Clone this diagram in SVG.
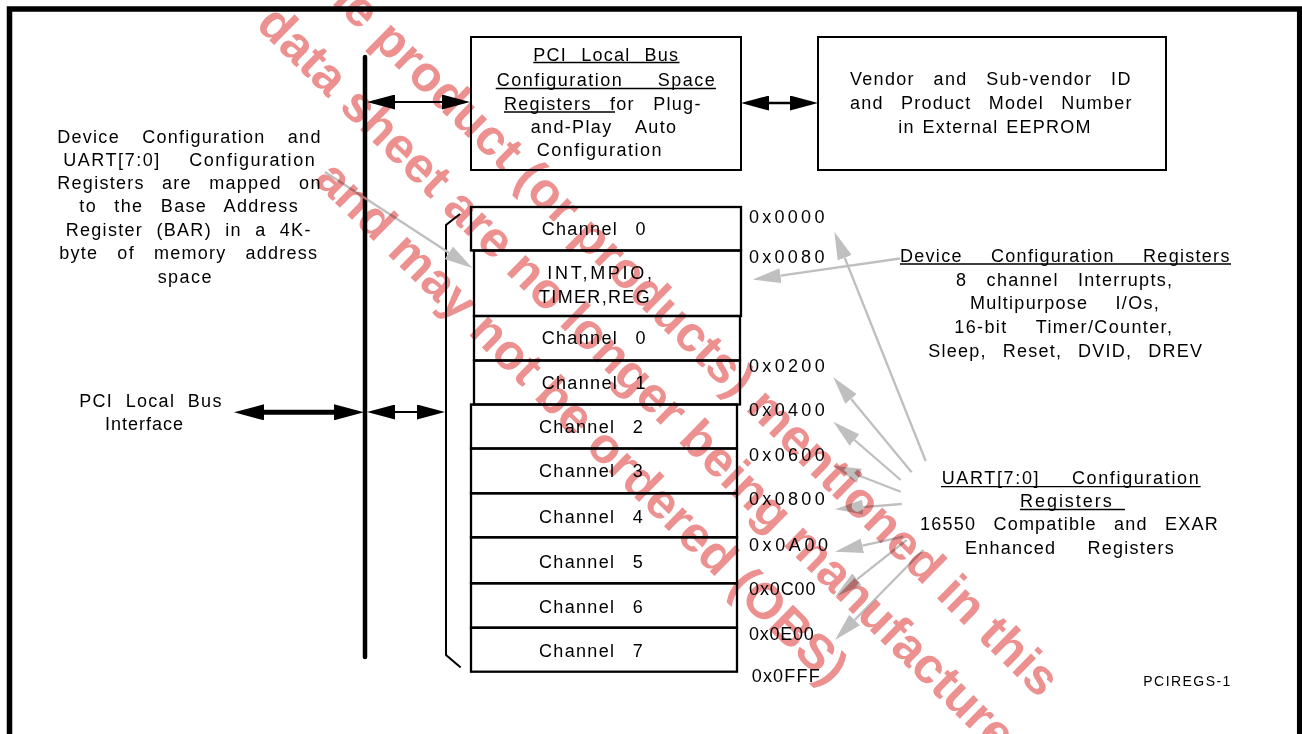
<svg xmlns="http://www.w3.org/2000/svg" width="1302" height="734" viewBox="0 0 1302 734">
<style>
.frame{fill:none;stroke:#000;stroke-width:5.5}
.box{fill:none;stroke:#000;stroke-width:2}
.reg{fill:none;stroke:#000;stroke-width:2.3}
.t{font-family:"Liberation Sans",Arial,sans-serif;font-size:18px;letter-spacing:1.3px;fill:#000}
.s{font-size:14px}
.ul{stroke:#000;stroke-width:1.3}
.bk{stroke:#000;fill:none}
.gr{stroke:#bfbfbf;stroke-width:2.3;fill:none;marker-end:url(#hg)}
.wm{font-family:"Liberation Sans",Arial,sans-serif;font-weight:bold;font-size:50px;fill:#ec9090}
</style>
<defs>
<marker id="hb" markerUnits="userSpaceOnUse" viewBox="0 -8 30 16" refX="0" refY="0" markerWidth="30" markerHeight="16" orient="auto-start-reverse"><path d="M0,-8 L30,0 L0,8z" fill="#000"/></marker>
<marker id="hm" markerUnits="userSpaceOnUse" viewBox="0 -7.5 28 15" refX="0" refY="0" markerWidth="28" markerHeight="15" orient="auto-start-reverse"><path d="M0,-7.5 L28,0 L0,7.5z" fill="#000"/></marker>
<marker id="hg" markerUnits="userSpaceOnUse" viewBox="0 -7.5 28 15" refX="0" refY="0" markerWidth="28" markerHeight="15" orient="auto"><path d="M0,-7.5 L28,0 L0,7.5z" fill="#bfbfbf"/></marker>
</defs>
<rect width="1302" height="734" fill="#fff"/>
<path class="frame" d="M9.5,740 V9 H1299.7 V740"/>

<g id="desc-left">
<text class="t" x="57.3" y="142.5" textLength="264.4" lengthAdjust="spacing" style="word-spacing:16px">Device Configuration and</text>
<text class="t" x="63.3" y="165.7" textLength="252.7" lengthAdjust="spacing" style="word-spacing:22px">UART[7:0] Configuration</text>
<text class="t" x="57.3" y="189.3" textLength="264.4" lengthAdjust="spacing" style="word-spacing:11px">Registers are mapped on</text>
<text class="t" x="79.3" y="212.3" textLength="219.7" lengthAdjust="spacing" style="word-spacing:11px">to the Base Address</text>
<text class="t" x="65.7" y="236" textLength="246" lengthAdjust="spacing" style="word-spacing:7px">Register (BAR) in a 4K-</text>
<text class="t" x="59.3" y="258.7" textLength="259" lengthAdjust="spacing" style="word-spacing:12.8px">byte of memory address</text>
<text class="t" x="157.7" y="283" textLength="55" lengthAdjust="spacing">space</text>
</g>

<g id="pci-bus-label">
<text class="t" x="79.3" y="406.7" textLength="143.4" lengthAdjust="spacing" style="word-spacing:6.4px">PCI Local Bus</text>
<text class="t" x="105" y="430" textLength="79.3" lengthAdjust="spacing">Interface</text>
</g>

<g id="bus">
<line x1="365" y1="57" x2="365" y2="657" stroke="#000" stroke-width="4.5" stroke-linecap="round"/>
</g>

<g id="pci-config-box">
<rect class="box" x="471" y="37" width="270" height="133"/>
<text class="t" x="533.3" y="60.7" textLength="146" lengthAdjust="spacing" style="word-spacing:7.8px">PCI Local Bus</text>
<text class="t" x="496.7" y="86" textLength="219.3" lengthAdjust="spacing" style="word-spacing:28px">Configuration Space</text>
<text class="t" x="504" y="110" textLength="197.7" lengthAdjust="spacing" style="word-spacing:12px">Registers for Plug-</text>
<text class="t" x="530.7" y="133.3" textLength="146.6" lengthAdjust="spacing" style="word-spacing:17px">and-Play Auto</text>
<text class="t" x="536.7" y="156" textLength="126" lengthAdjust="spacing">Configuration</text>
<line class="ul" x1="533.3" y1="62.5" x2="679.5" y2="62.5"/>
<line class="ul" x1="495.7" y1="88.5" x2="716" y2="88.5"/>
<line class="ul" x1="504" y1="112" x2="615" y2="112"/>
</g>

<g id="vendor-box">
<rect class="box" x="818" y="37" width="348" height="133"/>
<text class="t" x="850" y="85" textLength="281.7" lengthAdjust="spacing" style="word-spacing:12.5px">Vendor and Sub-vendor ID</text>
<text class="t" x="850" y="109.3" textLength="282.7" lengthAdjust="spacing" style="word-spacing:11px">and Product Model Number</text>
<text class="t" x="898.3" y="132.7" textLength="193.4" lengthAdjust="spacing" style="word-spacing:1.5px">in External EEPROM</text>
</g>

<g id="register-map">
<path class="bk" stroke-width="2" d="M460,214 L446,225 V655 L460.7,667.5"/>
<rect class="reg" x="471" y="207" width="270" height="43.5"/>
<rect class="reg" x="474" y="250.5" width="267" height="65.5"/>
<rect class="reg" x="474" y="316" width="266" height="44.5"/>
<rect class="reg" x="474" y="360.5" width="266" height="44"/>
<rect class="reg" x="471" y="404.5" width="266" height="44"/>
<rect class="reg" x="471" y="448.5" width="266" height="44.8"/>
<rect class="reg" x="471" y="493.3" width="266" height="44"/>
<rect class="reg" x="471" y="537.3" width="266" height="46"/>
<rect class="reg" x="471" y="583.3" width="266" height="44.4"/>
<rect class="reg" x="471" y="627.7" width="266" height="44"/>
<text class="t" x="541.7" y="235" textLength="105" lengthAdjust="spacing" style="word-spacing:11px">Channel 0</text>
<text class="t" x="547.3" y="279.3" textLength="106" lengthAdjust="spacing">INT,MPIO,</text>
<text class="t" x="539" y="303" textLength="112" lengthAdjust="spacing">TIMER,REG</text>
<text class="t" x="541.7" y="344" textLength="105" lengthAdjust="spacing" style="word-spacing:11px">Channel 0</text>
<text class="t" x="541.7" y="389.3" textLength="105" lengthAdjust="spacing" style="word-spacing:11px">Channel 1</text>
<text class="t" x="539" y="433.3" textLength="105" lengthAdjust="spacing" style="word-spacing:11px">Channel 2</text>
<text class="t" x="539" y="477.3" textLength="105" lengthAdjust="spacing" style="word-spacing:11px">Channel 3</text>
<text class="t" x="539" y="523.3" textLength="105" lengthAdjust="spacing" style="word-spacing:11px">Channel 4</text>
<text class="t" x="539" y="568.3" textLength="105" lengthAdjust="spacing" style="word-spacing:11px">Channel 5</text>
<text class="t" x="539" y="612.7" textLength="105" lengthAdjust="spacing" style="word-spacing:11px">Channel 6</text>
<text class="t" x="539" y="656.7" textLength="105" lengthAdjust="spacing" style="word-spacing:11px">Channel 7</text>
</g>

<g id="addresses">
<text class="t" x="749" y="223.3" textLength="76.7" lengthAdjust="spacing">0x0000</text>
<text class="t" x="749" y="263.3" textLength="76.7" lengthAdjust="spacing">0x0080</text>
<text class="t" x="749" y="371.7" textLength="77" lengthAdjust="spacing">0x0200</text>
<text class="t" x="749" y="416" textLength="77" lengthAdjust="spacing">0x0400</text>
<text class="t" x="749" y="461" textLength="77" lengthAdjust="spacing">0x0600</text>
<text class="t" x="749" y="505" textLength="77" lengthAdjust="spacing">0x0800</text>
<text class="t" x="749" y="550.7" textLength="80.3" lengthAdjust="spacing">0x0A00</text>
<text class="t" x="749" y="595" textLength="67.7" lengthAdjust="spacing">0x0C00</text>
<text class="t" x="749" y="640" textLength="66" lengthAdjust="spacing">0x0E00</text>
<text class="t" x="751.7" y="681.7" textLength="69.3" lengthAdjust="spacing">0x0FFF</text>
</g>

<g id="device-config-label">
<text class="t" x="900" y="261.7" textLength="330.7" lengthAdjust="spacing" style="word-spacing:22px">Device Configuration Registers</text>
<line class="ul" x1="900" y1="264" x2="1231" y2="264"/>
<text class="t" x="956" y="285.5" textLength="217.3" lengthAdjust="spacing" style="word-spacing:13px">8 channel Interrupts,</text>
<text class="t" x="970" y="309" textLength="190" lengthAdjust="spacing" style="word-spacing:21px">Multipurpose I/Os,</text>
<text class="t" x="954.3" y="333" textLength="219" lengthAdjust="spacing" style="word-spacing:22px">16-bit Timer/Counter,</text>
<text class="t" x="928.3" y="356.7" textLength="275" lengthAdjust="spacing" style="word-spacing:9.6px">Sleep, Reset, DVID, DREV</text>
</g>

<g id="uart-config-label">
<text class="t" x="941.7" y="484.3" textLength="258.3" lengthAdjust="spacing" style="word-spacing:25px">UART[7:0] Configuration</text>
<line class="ul" x1="941" y1="486.7" x2="1200.7" y2="486.7"/>
<text class="t" x="1020" y="507.3" textLength="93" lengthAdjust="spacing">Registers</text>
<line class="ul" x1="1020" y1="509.5" x2="1125" y2="509.5"/>
<text class="t" x="920" y="530" textLength="299" lengthAdjust="spacing" style="word-spacing:11px">16550 Compatible and EXAR</text>
<text class="t" x="965" y="554" textLength="210" lengthAdjust="spacing" style="word-spacing:25px">Enhanced Registers</text>
</g>

<g id="figure-id">
<text class="t s" x="1143.3" y="686" textLength="88.4" lengthAdjust="spacing">PCIREGS-1</text>
</g>

<g id="connectors">
<line class="bk" stroke-width="5" x1="264" y1="412.3" x2="334" y2="412.3" marker-start="url(#hb)" marker-end="url(#hb)"/>
<line class="bk" stroke-width="2" x1="395" y1="412" x2="417" y2="412" marker-start="url(#hm)" marker-end="url(#hm)"/>
<line class="bk" stroke-width="2" x1="395" y1="102" x2="442" y2="102" marker-start="url(#hm)" marker-end="url(#hm)"/>
<line class="bk" stroke-width="2.5" x1="769" y1="103" x2="790" y2="103" marker-start="url(#hm)" marker-end="url(#hm)"/>
<line class="gr" x1="325" y1="172" x2="448.9" y2="252.8"/>
<line class="gr" x1="900" y1="258.5" x2="780.5" y2="275.6"/>
<line class="gr" x1="925.7" y1="461" x2="844.7" y2="257.7"/>
<line class="gr" x1="911.7" y1="472.3" x2="851.1" y2="398.9"/>
<line class="gr" x1="900.7" y1="480" x2="854.5" y2="440"/>
<line class="gr" x1="900.7" y1="491.7" x2="859.4" y2="475.8"/>
<line class="gr" x1="901.7" y1="504" x2="862.9" y2="507.1"/>
<line class="gr" x1="903.3" y1="536.7" x2="862.4" y2="545.7"/>
<line class="gr" x1="906.7" y1="540" x2="857" y2="579.3"/>
<line class="gr" x1="923.3" y1="550" x2="854.6" y2="620"/>
</g>

<g id="watermark" style="mix-blend-mode:multiply" transform="rotate(44.5)">
<text class="wm" x="190" y="-230">The product (or products) mentioned in this</text>
<text class="wm" x="200" y="-160">data sheet are no longer being manufactured</text>
<text class="wm" x="350" y="-90">and may not be ordered (OBS)</text>
</g>
</svg>
